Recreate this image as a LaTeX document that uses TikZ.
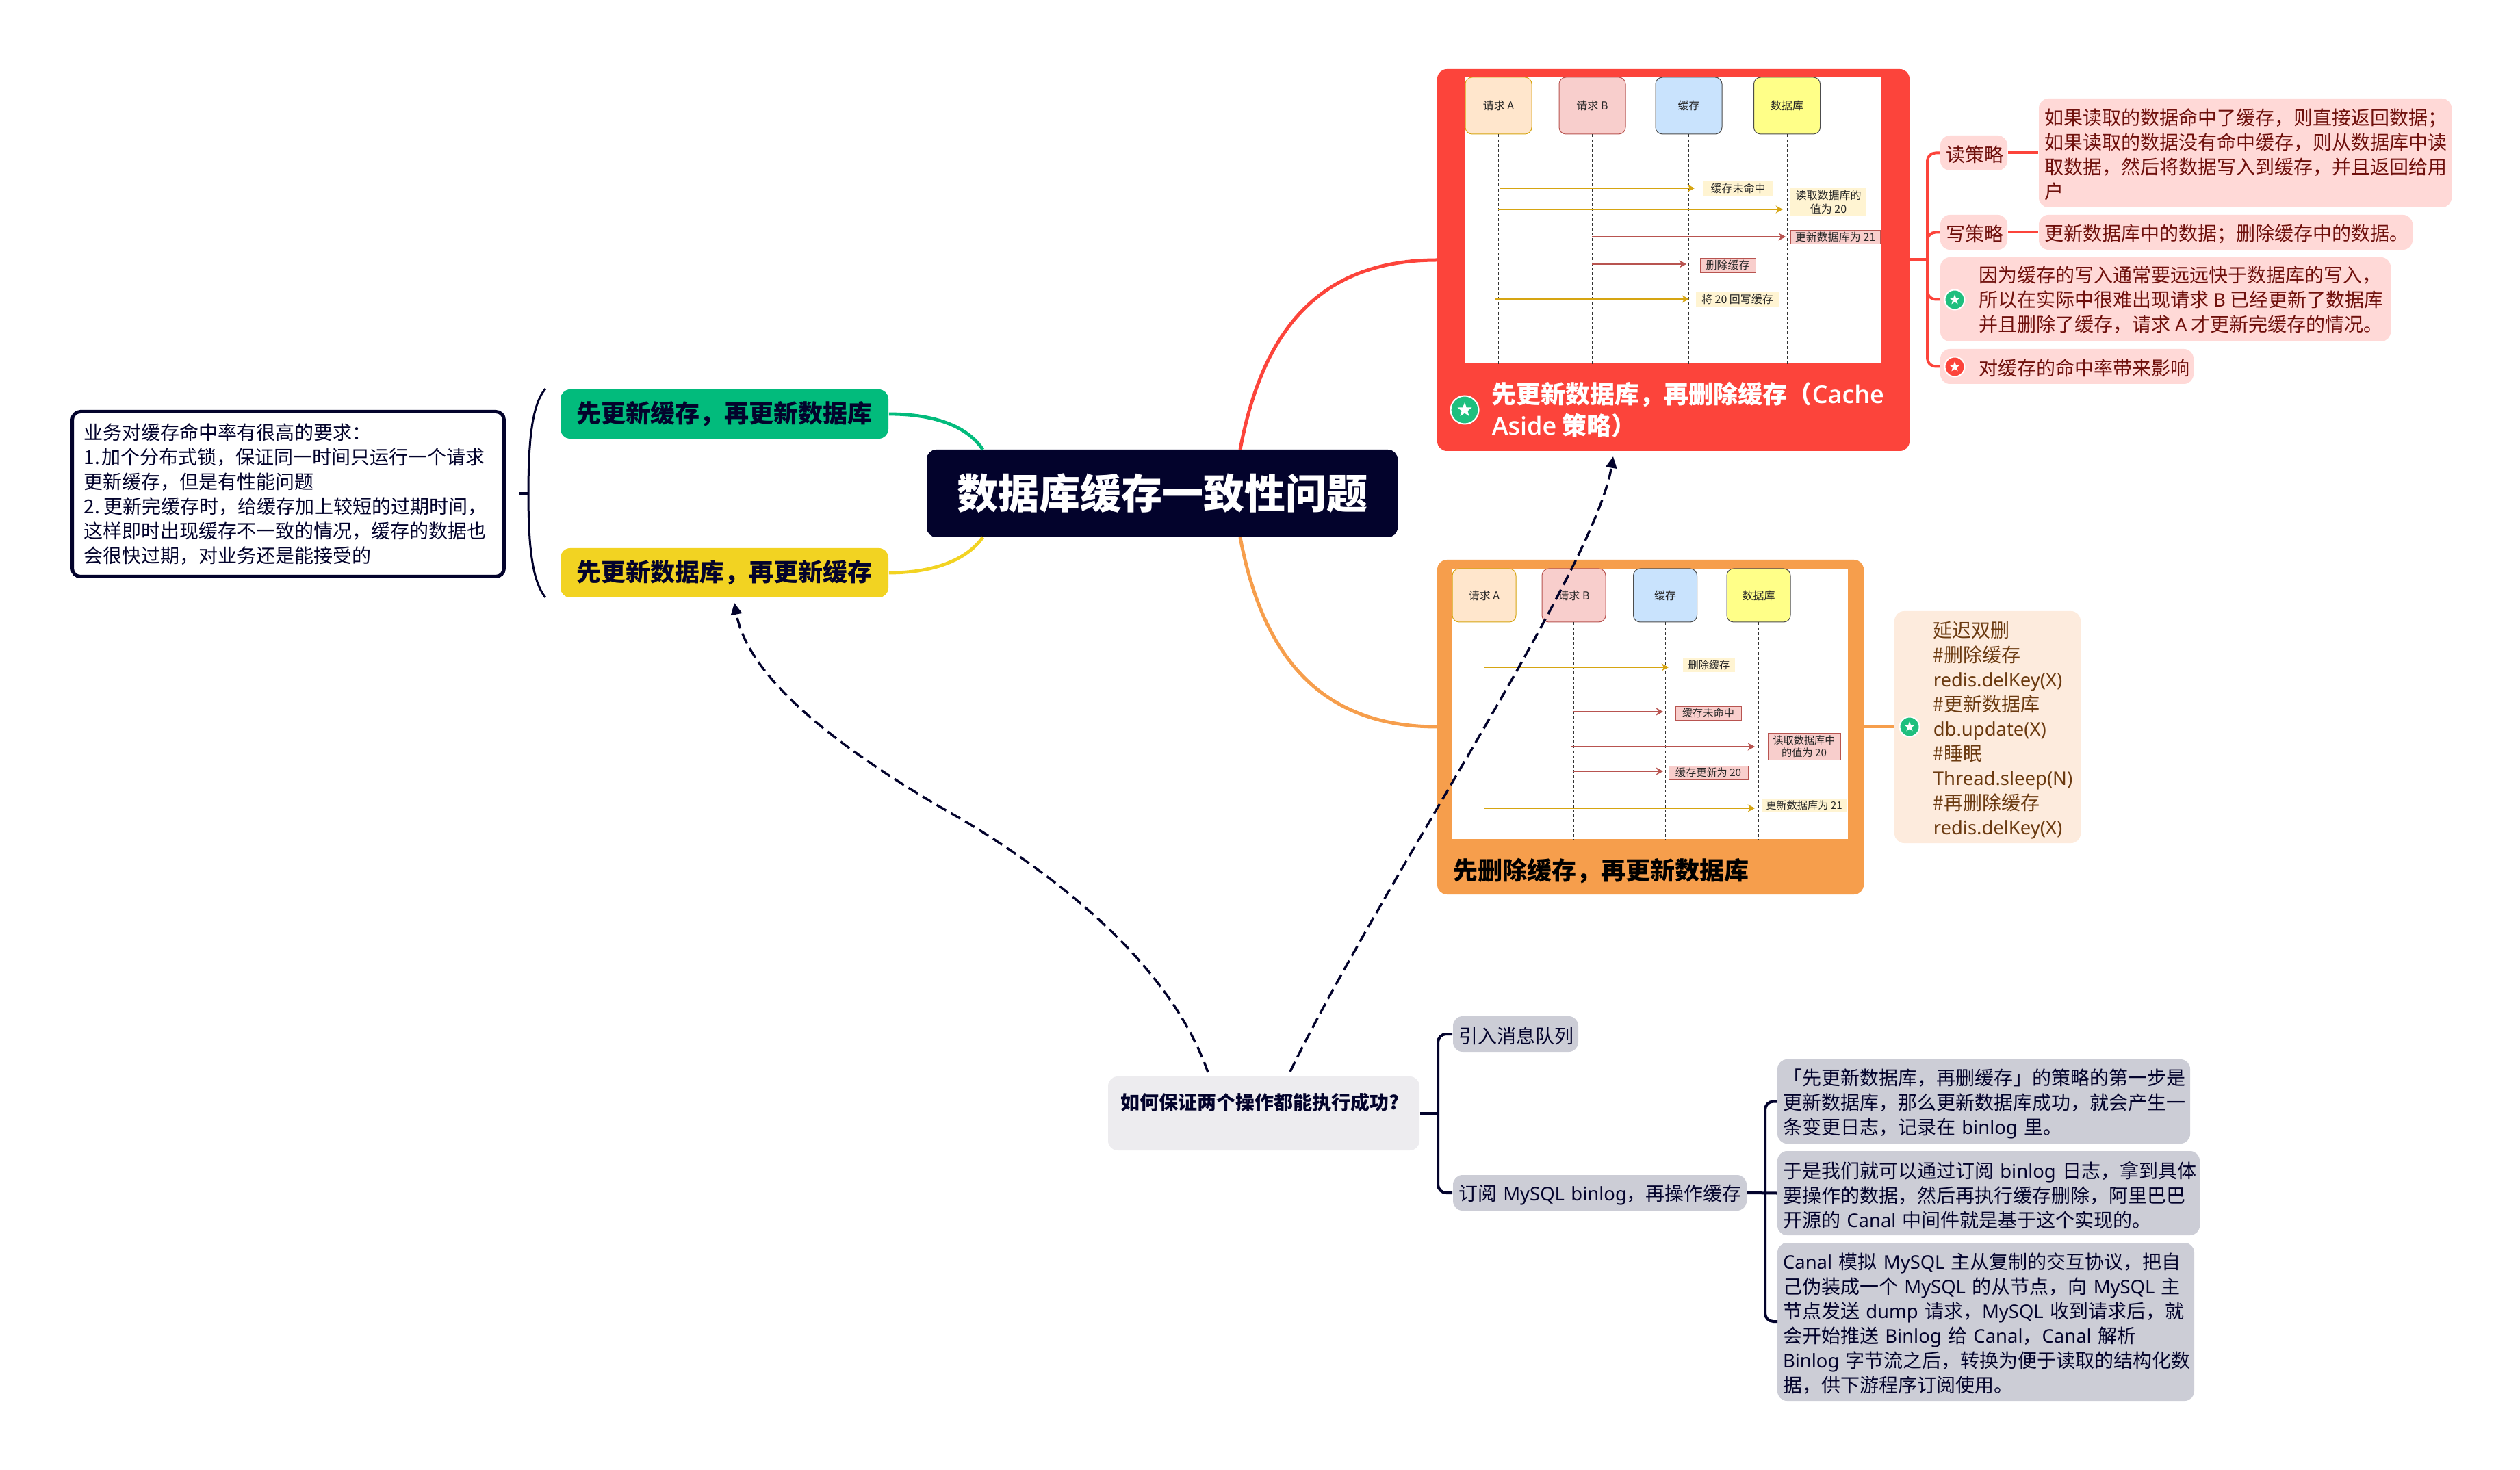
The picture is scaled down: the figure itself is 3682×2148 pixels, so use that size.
\documentclass[tikz,border=0pt]{standalone}
\usepackage{fontspec}
\setmainfont{Noto Sans CJK SC}
\newfontfamily\latfont{Noto Sans}[Scale=0.98]
\newfontfamily\latbold{Open Sans}[BoldFont={Open Sans Semibold}]
\newcommand\ltn[1]{{\latfont #1}}
\newcommand\ltb[1]{{\latbold\bfseries #1}}
\usetikzlibrary{arrows.meta,shapes.geometric}
\definecolor{navy}{HTML}{03032C}
\definecolor{redc}{HTML}{FC443B}
\definecolor{redp}{HTML}{FFD9D7}
\definecolor{redt}{HTML}{6F100C}
\definecolor{orgc}{HTML}{F69E4C}
\definecolor{orgp}{HTML}{FDEBDD}
\definecolor{orgt}{HTML}{6B3A10}
\definecolor{grnc}{HTML}{02BB7C}
\definecolor{yelc}{HTML}{F2D322}
\definecolor{gryc}{HTML}{CCCDD6}
\definecolor{gryp}{HTML}{EDECEF}
\definecolor{stargrn}{HTML}{1FBF7E}
\definecolor{seqy}{HTML}{D6A512}
\definecolor{seqr}{HTML}{B85450}
\definecolor{seqyb}{HTML}{FFF4D2}
\definecolor{seqrb}{HTML}{F8CECC}
\definecolor{actA}{HTML}{FFE6CC}
\definecolor{actC}{HTML}{C9E3FD}
\definecolor{actD}{HTML}{FFFF88}
\tikzset{
  bx/.code n args={3}{%
    \pgfmathsetmacro\bxw{#1*.25}\pgfmathsetmacro\bxh{#2*.25}%
    \pgfmathsetmacro\bxt{(#1-2*#3)*.25}\pgfmathsetmacro\bxp{#3*.25}%
    \tikzset{minimum width=\bxw pt,minimum height=\bxh pt,text width=\bxt pt,
      inner xsep=\bxp pt,inner ysep=0pt,align=left}},
  sz/.code 2 args={%
    \pgfmathsetmacro\bxw{#1*.25}\pgfmathsetmacro\bxh{#2*.25}%
    \tikzset{minimum width=\bxw pt,minimum height=\bxh pt,inner sep=0pt}},
  body/.style={font=\fontsize{7}{9}\selectfont,execute at begin node={\rule{0pt}{7.4pt}}},
  boxr/.style={rounded corners=3.5pt},
  redbox/.style={boxr,fill=redp,text=redt,font=\fontsize{7}{9}\selectfont,execute at begin node={\rule{0pt}{7pt}}},
  grybox/.style={boxr,fill=gryc,text=navy,body},
  mainb/.style={boxr,text=navy,font=\fontsize{9}{11.5}\selectfont\bfseries,align=center},
  txt/.style={anchor=west,align=left,inner sep=0pt,body},
  rline/.style={draw=redc,line width=1pt,rounded corners=3pt},
  nline/.style={draw=navy,line width=1pt,rounded corners=3pt},
  actor/.style={rounded corners=2.5pt,line width=.25pt,align=center,text=black!85,font=\fontsize{4}{5}\selectfont},
  life/.style={draw=black!80,line width=.22pt,dash pattern=on 1pt off .8pt},
  sarr/.style={line width=.5pt,-{Stealth[length=2.6pt,width=2.8pt]}},
  slab/.style={align=center,text=black!85},
  ylab/.style={slab,fill=seqyb},
  rlab/.style={slab,fill=seqrb,draw=seqr,line width=.2pt},
  dashline/.style={draw=navy,line width=.85pt,dash pattern=on 4pt off 2pt,-{Triangle[length=4.2pt,width=4pt]}},
}
\newcommand\staricon[5]{%
  \node[circle,fill=#5,draw=white,line width=.5pt,minimum size=#4*.25pt,inner sep=0pt] (#1) at (#2,#3) {};
  \node[star,star points=5,star point ratio=2.4,fill=white,minimum size=#4*.135pt,inner sep=0pt] (#1s) at (#2,#3) {};}
\newcommand\seqarrow[6]{%
  \coordinate (#1s) at (#2,#4); \coordinate (#1e) at (#3,#4);
  \draw[sarr,#5] (#1s) -- (#1e);}
\begin{document}
\begin{tikzpicture}[x=.25pt,y=-.25pt]
\useasboundingbox (0,0) rectangle (3682,2148);
% ---- root and main branches
\node[boxr,fill=navy,text=white,sz={688}{128},font=\fontsize{15}{18}\selectfont\bfseries] (root) at (1698,721) {数据库缓存一致性问题};
\node[mainb,fill=grnc,sz={479}{72}] (green) at (1058.5,605) {先更新缓存，再更新数据库};
\node[mainb,fill=yelc,sz={479}{72}] (yellow) at (1058.5,837) {先更新数据库，再更新缓存};
\node[fill=white,draw=navy,line width=1.25pt,bx={631}{241}{17},rounded corners=3pt,font=\fontsize{7}{9}\selectfont,text=navy] (note) at (421,722) {业务对缓存命中率有很高的要求：\\\mbox{1.\hspace{.6pt}加个分布式锁，保证同一时间只运行一个请求}\\更新缓存，但是有性能问题\\\mbox{2.\hspace{1.5pt}更新完缓存时，给缓存加上较短的过期时间，}\\这样即时出现缓存不一致的情况，缓存的数据也\\会很快过期，对业务还是能接受的};
% bracket
\coordinate (brT) at (797,568); \coordinate (brM) at (772,721); \coordinate (brB) at (797,873); \coordinate (brL) at (759,721);
\draw[navy,line width=.75pt] (brT) .. controls (778,590) and (772,640) .. (brM) .. controls (772,800) and (778,850) .. (brB);
\draw[navy,line width=1pt] (brL) -- (brM);
% curves root
\coordinate (rootG) at (1436,657); \coordinate (rootY) at (1436,785);
\coordinate (rootR) at (1812,657); \coordinate (rootO) at (1812,785);
\draw[grnc,line width=1.2pt] (green.east) .. controls (1370,605) and (1415,625) .. (rootG);
\draw[yelc,line width=1.2pt] (yellow.east) .. controls (1370,837) and (1415,815) .. (rootY);
% ---- red panel
\node[fill=redc,rounded corners=3.5pt,sz={690}{558}] (redpanel) at (2445,380) {};
\node[fill=white,sz={608}{418.5}] (redimg) at (2444,321.75) {};
\coordinate (rcEnd) at (2100,380);
\draw[redc,line width=1.25pt] (rootR) .. controls (1845,480) and (1930,380) .. (rcEnd);
\node[actor,fill=actA,draw=seqy,sz={97}{83}] (ra) at (2189.5,154.5) {请求 A};
\node[actor,fill=seqrb,draw=seqr,sz={97}{83}] (rb) at (2326.5,154.5) {请求 B};
\node[actor,fill=actC,draw=black!70,sz={97}{83}] (rc) at (2467.5,154.5) {缓存};
\node[actor,fill=actD,draw=black!70,sz={97}{83}] (rd) at (2611,154.5) {数据库};
\foreach \n in {ra,rb,rc,rd}{\coordinate (\n e) at (\n.south |- redimg.south); \draw[life] (\n.south) -- (\n e);}
\seqarrow{ra1}{2191}{2476}{275}{seqy}{}
\seqarrow{ra2}{2189}{2605}{306}{seqy}{}
\seqarrow{ra3}{2326}{2609}{346}{seqr}{}
\seqarrow{ra4}{2326}{2464}{386}{seqr}{}
\seqarrow{ra5}{2185}{2468}{437}{seqy}{}
\begin{scope}[font=\fontsize{4}{5}\selectfont]
\node[ylab,sz={101}{21}] (rl1) at (2539.5,275.5) {缓存未命中};
\node[ylab,sz={111}{41}] (rl2) at (2671.5,295.5) {读取数据库的\\值为 20};
\node[rlab,sz={131}{20}] (rl3) at (2681.5,346) {更新数据库为 21};
\node[rlab,sz={81}{21}] (rl4) at (2524.5,387.5) {删除缓存};
\node[ylab,sz={121}{21}] (rl5) at (2538.5,437.5) {将 20 回写缓存};
\end{scope}
\staricon{rstar}{2140}{599}{41}{stargrn}
\node[anchor=west,align=left,inner sep=0pt,text=white,font=\fontsize{9}{11.5}\selectfont\bfseries] (rtitle) at (2179,599) {先更新数据库，再删除缓存（\ltb{Cache}\\\ltb{Aside} 策略）};
% red children
\node[redbox,bx={98}{51}{8},align=center] (read) at (2884,223.5) {读策略};
\node[redbox,bx={603}{159}{8}] (readt) at (3280.5,223.5) {如果读取的数据命中了缓存，则直接返回数据；\\如果读取的数据没有命中缓存，则从数据库中读\\取数据，然后将数据写入到缓存，并且返回给用\\户};
\node[redbox,bx={98}{51}{8},align=center] (write) at (2884,339.5) {写策略};
\node[redbox,bx={546}{51}{8}] (writet) at (3252,339.5) {更新数据库中的数据；删除缓存中的数据。};
\node[boxr,fill=redp,sz={658}{123}] (pro) at (3164,437.5) {};
\node[boxr,fill=redp,sz={370}{51}] (con) at (3020,535.5) {};
\staricon{pros}{2856}{438}{29}{stargrn}
\staricon{cons}{2856}{536}{29}{redc}
\node[txt,text=redt] (prot) at (2891,438) {因为缓存的写入通常要远远快于数据库的写入，\\所以在实际中很难出现请求 \ltn{B} 已经更新了数据库\\并且删除了缓存，请求 \ltn{A} 才更新完缓存的情况。};
\node[txt,text=redt] (cont) at (2891,535) {对缓存的命中率带来影响};
\coordinate (rtr) at (2816,379);
\draw[rline] (read.west) -- (read.west -| rtr) -- (con.west -| rtr) -- (con.west);
\draw[rline] (write.west) -- (write.west -| rtr) -- ++(0,40);
\draw[rline] (pro.west) -- (pro.west -| rtr) -- ++(0,-40);
\draw[redc,line width=1pt] (redpanel.east |- rtr) -- (rtr);
\draw[redc,line width=1pt] (read.east) -- (readt.west |- read.east);
\draw[redc,line width=1pt] (write.east) -- (writet.west);
% ---- orange panel
\node[fill=orgc,rounded corners=3.5pt,sz={623}{489}] (orgpanel) at (2411.5,1062.5) {};
\node[fill=white,sz={578}{395}] (orgimg) at (2411,1028.5) {};
\coordinate (ocEnd) at (2100,1062);
\draw[orgc,line width=1.25pt] (rootO) .. controls (1845,960) and (1930,1062) .. (ocEnd);
\node[actor,fill=actA,draw=seqy,sz={93}{78}] (oa) at (2168.5,870) {请求 A};
\node[actor,fill=seqrb,draw=seqr,sz={93}{78}] (ob) at (2299.5,870) {请求 B};
\node[actor,fill=actC,draw=black!70,sz={93}{78}] (oc) at (2433,870) {缓存};
\node[actor,fill=actD,draw=black!70,sz={93}{78}] (od) at (2569.5,870) {数据库};
\foreach \n in {oa,ob,oc,od}{\coordinate (\n e) at (\n.south |- orgimg.south); \draw[life] (\n.south) -- (\n e);}
\seqarrow{oa1}{2168}{2438}{975}{seqy}{}
\seqarrow{oa2}{2299}{2430}{1040}{seqr}{}
\seqarrow{oa3}{2295}{2564}{1091}{seqr}{}
\seqarrow{oa4}{2299}{2430}{1127}{seqr}{}
\seqarrow{oa5}{2168}{2564}{1181}{seqy}{}
\begin{scope}[font=\fontsize{3.8}{4.4}\selectfont]
\node[ylab,sz={76}{20}] (ol1) at (2497,972) {删除缓存};
\node[rlab,sz={96}{20}] (ol2) at (2496,1042) {缓存未命中};
\node[rlab,sz={106}{39}] (ol3) at (2636,1090.5) {读取数据库中\\的值为 20};
\node[rlab,sz={116}{20}] (ol4) at (2496,1129) {缓存更新为 20};
\node[ylab,sz={124}{20}] (ol5) at (2636,1177) {更新数据库为 21};
\end{scope}
\node[anchor=west,align=left,inner sep=0pt,text=black,font=\fontsize{9}{11.5}\selectfont\bfseries] (otitle) at (2123,1273) {先删除缓存，再更新数据库};
% orange child
\node[boxr,fill=orgp,sz={272}{339}] (peach) at (2904,1062.5) {};
\staricon{ostar}{2790}{1062}{29}{stargrn}
\node[txt,text=orgt] (peacht) at (2824,1067) {延迟双删\\\#删除缓存\\\ltn{redis.delKey(X)}\\\#更新数据库\\\ltn{db.update(X)}\\\#睡眠\\\ltn{Thread.sleep(N)}\\\#再删除缓存\\\ltn{redis.delKey(X)}};
\draw[orgc,line width=1pt] (orgpanel.east |- ocEnd) -- (peach.west |- ocEnd);
% ---- question
\node[boxr,fill=gryp,text=navy,bx={455}{108}{18},font=\fontsize{7}{9}\selectfont\bfseries] (q) at (1846.5,1627) {如何保证两个操作都能执行成功?\\\mbox{}};
\node[grybox,bx={183}{52}{8}] (mq) at (2214.5,1511) {引入消息队列};
\node[grybox,bx={429}{52}{8}] (sub) at (2337.5,1743) {\mbox{订阅 \ltn{MySQL binlog}，再操作缓存}};
\node[grybox,bx={603}{123}{8}] (g1) at (2898.5,1609.5) {「先更新数据库，再删缓存」的策略的第一步是\\更新数据库，那么更新数据库成功，就会产生一\\\mbox{条变更日志，记录在 \ltn{binlog} 里。}};
\node[grybox,bx={617}{123}{8}] (g2) at (2905.5,1743.5) {\mbox{于是我们就可以通过订阅 \ltn{binlog} 日志，拿到具体}\\要操作的数据，然后再执行缓存删除，阿里巴巴\\\mbox{开源的 \ltn{Canal} 中间件就是基于这个实现的。}};
\node[grybox,bx={609}{231}{8}] (g3) at (2901.5,1931.5) {\mbox{\ltn{Canal} 模拟 \ltn{MySQL} 主从复制的交互协议，把自}\\\mbox{己伪装成一个 \ltn{MySQL} 的从节点，向 \ltn{MySQL} 主}\\\mbox{节点发送 \ltn{dump} 请求，\ltn{MySQL} 收到请求后，就}\\\mbox{会开始推送 \ltn{Binlog} 给 \ltn{Canal}，\ltn{Canal} 解析}\\\mbox{\ltn{Binlog} 字节流之后，转换为便于读取的结构化数}\\据，供下游程序订阅使用。};
\coordinate (qtr) at (2101,1627);
\draw[nline] (mq.west) -- (mq.west -| qtr) -- (sub.west -| qtr) -- (sub.west);
\draw[navy,line width=1pt] (q.east) -- (qtr);
\coordinate (str) at (2579,1743);
\coordinate (g3a) at (2597,1931);
\draw[nline] (g1.west) -- (g1.west -| str) -- (g3a -| str) -- (g3a);
\draw[navy,line width=1pt] (sub.east) -- (g2.west);
% ---- dashed arrows
\coordinate (d1s) at (1765,1567); \coordinate (d1m) at (1410,1200); \coordinate (d1e) at (1073,881);
\coordinate (d2s) at (1885,1566); \coordinate (d2e) at (2357,667);
\draw[dashline] (d1s) .. controls (1720,1440) and (1600,1315) .. (d1m) .. controls (1250,1110) and (1095,1000) .. (d1e);
\draw[dashline] (d2s) .. controls (2020,1290) and (2330,830) .. (d2e);
\end{tikzpicture}
\end{document}
